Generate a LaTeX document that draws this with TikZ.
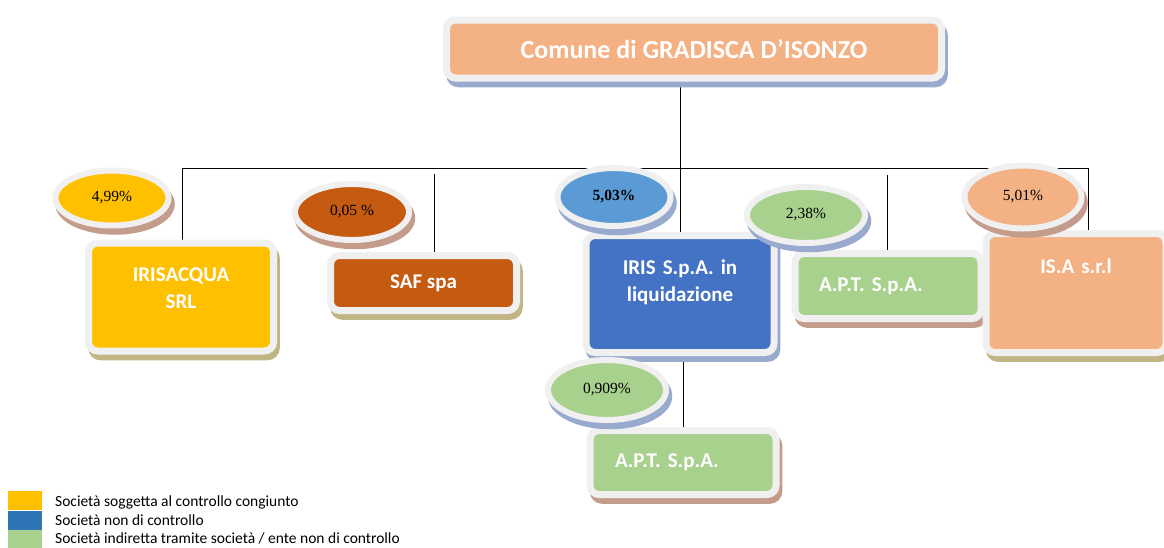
\documentclass[tikz,border=0pt]{standalone}
\usepackage{fontspec}
\setmainfont{Liberation Serif}
\newfontfamily\calibri{Carlito}
\frenchspacing
\usetikzlibrary{shapes.geometric,shadows,backgrounds,positioning}
\definecolor{peach}{HTML}{F4B183}
\definecolor{gold}{HTML}{FFC000}
\definecolor{rust}{HTML}{C55A11}
\definecolor{skyblue}{HTML}{5B9BD5}
\definecolor{royal}{HTML}{4472C4}
\definecolor{leaf}{HTML}{A9D18E}
\definecolor{keyblue}{HTML}{2E75B6}
\definecolor{rimgray}{HTML}{F0F0F0}
\definecolor{shblue}{HTML}{98ABCF}
\definecolor{shbrown}{HTML}{C49C8B}
\definecolor{sholive}{HTML}{C2B584}
\tikzset{
  shade on/.style={drop shadow={shadow xshift=3pt, shadow yshift=-6pt, opacity=1, fill=#1, draw=#1, line width=6.5pt}},
  firm/.style={draw=rimgray, line width=7pt, rounded corners=9pt, text=white, align=center, inner sep=0pt,
    font=\calibri\bfseries\fontsize{21}{26.5}\selectfont},
  quota/.style={ellipse, draw=rimgray, line width=6pt, inner sep=0pt, font=\fontsize{15.5}{18}\selectfont},
  legkey/.style={minimum width=34pt, minimum height=19pt, inner sep=0pt},
  legtext/.style={font=\calibri\fontsize{15.5}{19}\selectfont, inner sep=0pt, anchor=base west},
}
\begin{document}
\begin{tikzpicture}[x=1pt, y=-1pt]
\useasboundingbox (0,0) rectangle (1164,547);
% societa
\node[firm, fill=peach, shade on=shblue, minimum width=495pt, minimum height=58pt,
  font=\calibri\bfseries\fontsize{26}{30}\selectfont] (gradisca) at (694,49) {Comune di GRADISCA D’ISONZO};
\node[firm, fill=gold, shade on=sholive, minimum width=185pt, minimum height=108pt,
  text width=170pt, text height=20pt, text depth=51pt] (irisacqua) at (181,297) {IRISACQUA\\SRL};
\node[firm, fill=rust, shade on=sholive, minimum width=186pt, minimum height=55pt] (saf) at (423.5,283) {SAF spa};
\node[firm, fill=royal, shade on=shblue, minimum width=188pt, minimum height=117pt,
  text width=170pt, text height=20pt, text depth=59pt] (iris) at (680,294) {IRIS S.p.A. in\\liquidazione};
\node[firm, fill=leaf, shade on=shbrown, minimum width=186pt, minimum height=65pt,
  text width=138pt, align=left] (apt) at (888,286) {A.P.T. S.p.A.};
\node[firm, fill=peach, shade on=sholive, minimum width=180pt, minimum height=119pt,
  text width=160pt, text height=20pt, text depth=59pt] (isa) at (1076,293) {IS.A s.r.l};
\node[firm, fill=leaf, shade on=shbrown, minimum width=186pt, minimum height=64pt,
  text width=136pt, align=left] (aptsub) at (683,462.5) {A.P.T. S.p.A.};
% quote
\node[quota, fill=gold, shade on=shbrown, minimum width=113pt, minimum height=55pt] (qirisacqua) at (112,198) {4,99\%};
\node[quota, fill=rust, shade on=shbrown, minimum width=114pt, minimum height=56pt] (qsaf) at (352,212) {0,05 \%};
\node[quota, fill=skyblue, shade on=shblue, minimum width=113pt, minimum height=58pt] (qiris) at (614,197) {\textbf{5,03\%}};
\node[quota, fill=leaf, shade on=shblue, minimum width=118pt, minimum height=56pt] (qapt) at (806,215) {2,38\%};
\node[quota, fill=peach, shade on=shbrown, minimum width=117pt, minimum height=63pt] (qisa) at (1023,197) {5,01\%};
\node[quota, fill=leaf, shade on=shblue, minimum width=118pt, minimum height=60pt] (qaptsub) at (607,390) {0,909\%};
% collegamenti
\begin{scope}[on background layer, line width=1.5pt]
\coordinate (busW) at (182,168);
\coordinate (busE) at (1088,168);
\coordinate (legsaf) at (434,174);
\coordinate (legapt) at (887,175);
\draw (busW) -- (busE);
\draw (gradisca.south -| iris.north) -- (iris.north);
\draw (busW) -- (busW |- irisacqua.north);
\draw (legsaf) -- (legsaf |- saf.north);
\draw (legapt) -- (legapt |- apt.north);
\draw (busE) -- (busE |- isa.north);
\draw (iris.south -| aptsub.north) -- (aptsub.north);
\end{scope}
% legenda
\node[legkey, fill=gold, anchor=north west] (keyjoint) at (8,491) {};
\node[legkey, fill=keyblue, below=0pt of keyjoint] (keynon) {};
\node[legkey, fill=leaf, below=0pt of keynon] (keyind) {};
\node[legtext] (txtjoint) at (55,506) {Società soggetta al controllo congiunto};
\node[legtext] (txtnon) at (55,525) {Società non di controllo};
\node[legtext] (txtind) at (55,543) {Società indiretta tramite società / ente non di controllo};
\end{tikzpicture}
\end{document}
